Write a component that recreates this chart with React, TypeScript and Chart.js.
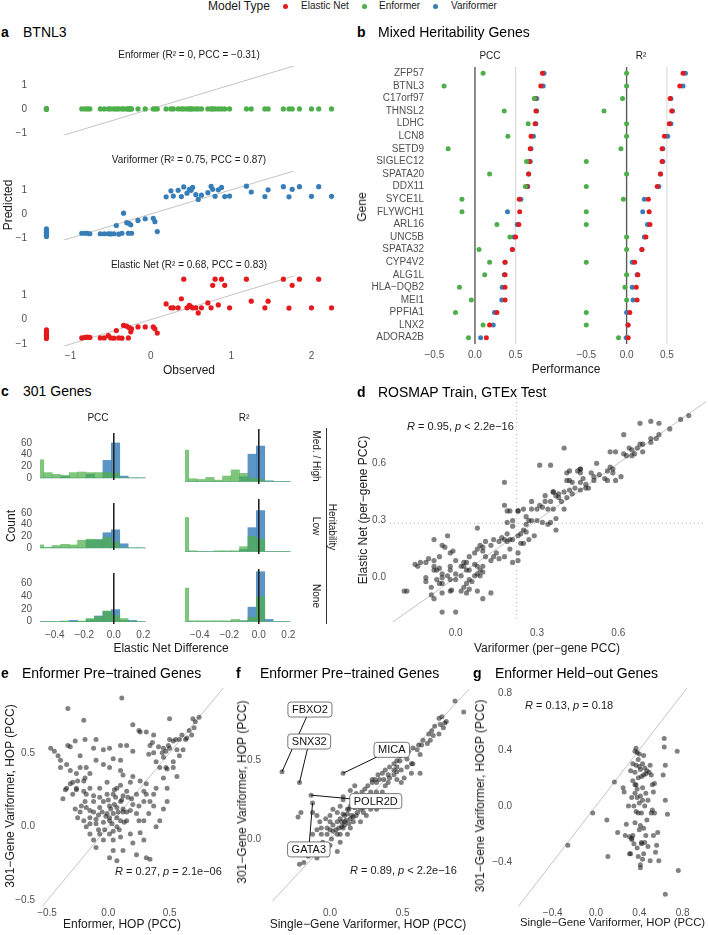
import React, { useEffect, useRef } from 'react';
import { Chart, registerables } from 'chart.js';

Chart.register(...registerables);

const FONT = '"Liberation Sans", Arial, Helvetica, sans-serif';
const INK = '#1a1a1a';
const TICK = '#505050';
const RED = '#E41A1C';
const GREEN = '#4DAF4A';
const BLUE = '#377EB8';
const DOT = 'rgba(25,25,25,0.55)';

// ---------- a: BTNL3, observed vs predicted ----------
const OBSERVED = [
  -1.3, -1.3, -1.3, -1.3, -1.3, -1.3,
  -0.86, -0.82, -0.79, -0.76, -0.63, -0.58, -0.53, -0.5, -0.46, -0.43, -0.4, -0.36, -0.34, -0.3, -0.28, -0.27, -0.25, -0.24,
  -0.16, -0.07, 0.03, 0.05, 0.08,
  0.19, 0.25, 0.28, 0.34, 0.38, 0.41, 0.45, 0.48, 0.5, 0.52, 0.56, 0.59, 0.63, 0.71, 0.75, 0.77, 0.8, 0.84, 0.88, 0.92, 0.98,
  1.19, 1.25, 1.42, 1.46, 1.65, 1.72, 1.76, 1.85, 2.0, 2.09, 2.25,
];
const PRED_ENFORMER = [
  0, 0, 0, 0, 0, 0,
  0, 0, 0, 0, 0, 0, 0, 0, 0, 0, 0, 0, 0, 0, 0, 0, 0, 0,
  0, 0, 0, 0, 0,
  0, 0, 0, 0, 0, 0, 0, 0, 0, 0, 0, 0, 0, 0, 0, 0, 0, 0, 0, 0, 0,
  0, 0, 0, 0, 0, 0, 0, 0, 0, 0, 0,
];
const PRED_VARIFORMER = [
  -0.62, -0.7, -0.76, -0.82, -0.88, -0.93,
  -0.8, -0.8, -0.8, -0.82, -0.82, -0.82, -0.82, -0.83, -0.82, -0.48, -0.84, -0.8, 0.03, -0.36, -0.8, -0.4, -0.45, -0.8,
  -0.27, -0.2, -0.18, -0.32, -0.73,
  0.71, 0.96, 0.74, 0.98, 0.72, 1.12, 0.86, 1.02, 0.98, 1.1, 0.8, 0.6, 0.78, 0.88, 1.14, 1.02, 0.73, 1.0, 1.1, 0.72, 0.74,
  1.15, 0.91, 0.72, 1.0, 1.13, 0.71, 1.02, 1.13, 0.73, 1.13, 0.73,
];
const PRED_ELASTIC = [
  -0.42, -0.5, -0.58, -0.64, -0.7, -0.77,
  -0.75, -0.73, -0.72, -0.73, -0.75, -0.75, -0.66, -0.75, -0.76, -0.45, -0.75, -0.76, -0.24, -0.27, -0.75, -0.33, -0.5, -0.38,
  -0.3, -0.3, -0.3, -0.38, -0.55,
  0.64, 0.48, 0.48, 0.48, 0.85, 1.65, 0.48, 0.58, 0.52, 0.48, 0.48, 0.27, 0.48, 0.68, 0.48, 1.4, 1.65, 0.6, 1.65, 1.4, 0.48,
  1.65, 0.75, 0.48, 0.75, 1.65, 0.47, 1.4, 1.65, 0.48, 1.65, 0.48,
];
const A_X_TICKS = [-1, 0, 1, 2];
const A_Y_TICKS = [-1, 0, 1];

// ---------- b: mixed heritability genes ----------
const GENES = [
  'ZFP57', 'BTNL3', 'C17orf97', 'THNSL2', 'LDHC', 'LCN8', 'SETD9', 'SIGLEC12', 'SPATA20', 'DDX11', 'SYCE1L',
  'FLYWCH1', 'ARL16', 'UNC5B', 'SPATA32', 'CYP4V2', 'ALG1L', 'HLA\u2212DQB2', 'MEI1', 'PPFIA1', 'LNX2', 'ADORA2B',
];
const PCC_ENFORMER = [0.1, -0.38, 0.73, 0.36, 0.655, 0.405, -0.33, 0.635, 0.18, 0.62, -0.16, -0.16, 0.27, 0.43, 0.05, 0.18, 0.12, -0.19, -0.045, -0.24, 0.1, -0.08];
const PCC_ELASTIC = [0.83, 0.81, 0.74, 0.75, 0.74, 0.69, 0.68, 0.67, 0.66, 0.64, 0.545, 0.55, 0.54, 0.5, 0.46, 0.37, 0.37, 0.37, 0.37, 0.27, 0.18, 0.14];
const PCC_VARIFORMER = [0.85, 0.84, 0.76, 0.76, 0.75, 0.72, 0.69, 0.68, 0.66, 0.65, 0.565, 0.4, 0.52, 0.48, 0.46, 0.37, 0.36, 0.335, 0.33, 0.24, 0.225, 0.07];
const R2_ENFORMER = [0, 0, -0.05, -0.28, 0, 0, -0.07, -0.5, 0, -0.5, -0.04, -0.5, -0.5, 0, 0, -0.5, 0, -0.02, 0, -0.5, -0.5, -0.1];
const R2_ELASTIC = [0.7, 0.66, 0.54, 0.56, 0.53, 0.47, 0.44, 0.44, 0.42, 0.38, 0.27, 0.28, 0.29, 0.24, 0.19, 0.1, 0.14, 0.12, 0.13, 0.04, 0.02, 0.02];
const R2_VARIFORMER = [0.73, 0.7, 0.55, 0.57, 0.55, 0.51, 0.45, 0.45, 0.42, 0.4, 0.22, 0.2, 0.26, 0.22, 0.19, 0.07, 0.13, 0.07, 0.08, 0, 0.015, -0.005];
const B_TICKS = [-0.5, 0, 0.5];

// ---------- c: 301 genes, elastic-net difference histograms ----------
const BIN_MID = [-0.503, -0.446, -0.389, -0.331, -0.274, -0.217, -0.159, -0.102, -0.045, 0.012, 0.069, 0.126, 0.184];
const PCC_HIGH_ENFORMER = [31, 9, 6, 4, 9, 10, 9, 9, 9, 8, 0, 0, 0];
const PCC_HIGH_VARIFORMER = [0, 0, 0, 3, 0, 0, 6, 0, 30, 60, 3, 0, 0];
const PCC_LOW_ENFORMER = [5, 1, 4, 6, 5, 13, 15, 14, 18, 10, 0, 0, 0];
const PCC_LOW_VARIFORMER = [0, 0, 0, 0, 0, 0, 13, 14, 26, 31, 7, 0, 0];
const PCC_NONE_ENFORMER = [0, 0, 0, 1, 0, 1, 5, 8, 17, 10, 5, 0, 0];
const PCC_NONE_VARIFORMER = [0, 0, 0, 0, 2, 0, 3, 9, 16, 19, 2, 2, 0];
const R2_HIGH_ENFORMER = [46, 4, 3, 6, 2, 8, 17, 12, 5, 3, 0, 0, 0];
const R2_HIGH_VARIFORMER = [0, 0, 0, 0, 0, 0, 0, 7, 40, 52, 1, 0, 0];
const R2_LOW_ENFORMER = [50, 1, 0, 0, 1, 1, 1, 7, 22, 18, 0, 0, 0];
const R2_LOW_VARIFORMER = [0, 0, 0, 0, 0, 0, 0, 3, 35, 60, 0, 0, 0];
const R2_NONE_ENFORMER = [49, 1, 1, 1, 1, 1, 3, 1, 6, 36, 0, 0, 0];
const R2_NONE_VARIFORMER = [0, 0, 0, 0, 0, 0, 0, 1, 21, 73, 3, 0, 0];
const C_X_TICKS = [-0.4, -0.2, 0, 0.2];
const C_Y_TICKS = [0, 20, 40, 60];

// ---------- d: ROSMAP train, GTEx test (Variformer vs Elastic Net per-gene PCC) ----------
const ROSMAP_GTEX = [
  [0.68, 0.81], [0.72, 0.82], [0.75, 0.81], [0.83, 0.83], [0.86, 0.85], [0.79, 0.78], [0.62, 0.75], [0.72, 0.71],
  [0.72, 0.73], [0.74, 0.73], [0.75, 0.75], [0.68, 0.7], [0.69, 0.7], [0.67, 0.68], [0.69, 0.66], [0.64, 0.68],
  [0.65, 0.67], [0.62, 0.65], [0.59, 0.66], [0.57, 0.66], [0.63, 0.64], [0.65, 0.64], [0.66, 0.65], [0.4, 0.68],
  [0.52, 0.6], [0.57, 0.58], [0.58, 0.57], [0.56, 0.56], [0.58, 0.55], [0.61, 0.53], [0.59, 0.51], [0.56, 0.51],
  [0.55, 0.52], [0.53, 0.54], [0.51, 0.53], [0.5, 0.55], [0.51, 0.51], [0.47, 0.52], [0.48, 0.49], [0.46, 0.57],
  [0.42, 0.51], [0.43, 0.5], [0.46, 0.5], [0.44, 0.47], [0.46, 0.46], [0.48, 0.47], [0.49, 0.47], [0.31, 0.59],
  [0.35, 0.59], [0.4, 0.45], [0.42, 0.46], [0.43, 0.44], [0.41, 0.42], [0.37, 0.43], [0.35, 0.4], [0.39, 0.4],
  [0.36, 0.36], [0.32, 0.37], [0.34, 0.36], [0.3, 0.36], [0.31, 0.38], [0.28, 0.4], [0.28, 0.36], [0.25, 0.36],
  [0.23, 0.35], [0.26, 0.32], [0.28, 0.3], [0.3, 0.3], [0.32, 0.29], [0.34, 0.28], [0.35, 0.29], [0.37, 0.25],
  [0.37, 0.31], [0.4, 0.36], [0.33, 0.43], [0.36, 0.45], [0.38, 0.42], [0.42, 0.56], [0.46, 0.55], [0.41, 0.51],
  [0.18, 0.5], [0.18, 0.38], [0.19, 0.35], [0.2, 0.35], [0.23, 0.35], [0.21, 0.3], [0.19, 0.29], [0.21, 0.27],
  [0.19, 0.23], [0.17, 0.21], [0.18, 0.2], [0.16, 0.19], [0.14, 0.2], [0.13, 0.17], [0.11, 0.19], [0.1, 0.16],
  [0.09, 0.17], [0.1, 0.14], [0.08, 0.15], [0.07, 0.13], [0.05, 0.11], [0.04, 0.08], [0.03, 0.08], [0.02, 0.06],
  [0.0, 0.09], [-0.01, 0.14], [-0.02, 0.13], [-0.03, 0.22], [-0.05, 0.17], [-0.04, 0.16], [-0.06, 0.11], [-0.08, 0.09],
  [-0.1, 0.1], [-0.11, 0.08], [-0.13, 0.08], [-0.15, 0.07], [-0.08, 0.2], [-0.08, 0.06], [-0.07, 0.04], [-0.06, 0.05],
  [-0.05, 0.02], [-0.02, 0.06], [-0.02, 0.04], [0.0, 0.02], [0.02, 0.01], [0.03, 0.06], [0.05, 0.04], [0.07, 0.07],
  [0.04, 0.04], [0.08, 0.06], [0.09, 0.04], [0.1, 0.06], [0.11, 0.11], [0.13, 0.09], [0.14, 0.11], [0.15, 0.13],
  [0.16, 0.1], [0.18, 0.11], [0.2, 0.15], [0.21, 0.2], [0.23, 0.22], [0.24, 0.23], [0.25, 0.25], [0.26, 0.28],
  [0.27, 0.3], [0.26, 0.24], [0.24, 0.18], [0.23, 0.13], [0.21, 0.08], [0.23, 0.09], [0.25, 0.18], [0.27, 0.2],
  [0.29, 0.22], [0.2, 0.2], [0.19, 0.19], [0.08, 0.26], [-0.14, 0.06], [-0.11, 0.0], [-0.11, -0.02], [-0.08, 0.04],
  [-0.07, -0.01], [-0.09, -0.05], [-0.06, -0.03], [-0.05, 0.0], [-0.03, 0.01], [-0.02, -0.01], [-0.02, -0.07], [-0.015, -0.065],
  [0.0, -0.01], [0.02, -0.07], [0.03, -0.05], [0.04, -0.03], [0.05, -0.01], [0.06, -0.02], [0.07, 0.01], [0.08, 0.02],
  [0.09, 0.01], [0.1, 0.03], [-0.18, -0.07], [-0.19, -0.07], [-0.05, -0.03], [-0.05, -0.18], [0.0, -0.18], [-0.09, -0.09],
  [-0.08, -0.11], [-0.05, -0.08], [0.04, -0.08], [0.1, -0.11], [0.13, -0.08], [0.08, -0.07], [0.05, -0.06], [0.33, 0.4],
  [0.36, 0.45], [0.38, 0.44], [0.45, 0.56], [0.41, 0.55], [0.46, 0.57],
];
const D_TICKS = [0, 0.3, 0.6];
const D_VAR_MARK = 0.225;
const D_EN_MARK = 0.285;

// ---------- e: Enformer pre-trained genes (Enformer vs 301-gene Variformer) ----------
const ENFORMER_VS_301 = [
  [0.11, 0.87], [-0.33, 0.8], [-0.2, 0.72], [0.5, 0.73], [0.69, 0.73], [0.71, 0.71], [0.74, 0.74], [0.2, 0.69],
  [0.25, 0.65], [0.26, 0.64], [0.31, 0.64], [0.37, 0.62], [0.36, 0.57], [0.5, 0.59], [0.55, 0.59], [0.63, 0.59],
  [0.45, 0.53], [0.41, 0.54], [0.37, 0.5], [0.33, 0.49], [0.47, 0.51], [0.34, 0.55], [0.2, 0.51], [0.15, 0.55],
  [0.1, 0.55], [0.01, 0.53], [-0.04, 0.52], [-0.1, 0.59], [-0.12, 0.53], [-0.19, 0.59], [-0.27, 0.58], [-0.33, 0.55],
  [-0.31, 0.54], [-0.23, 0.48], [-0.47, 0.53], [-0.44, 0.51], [-0.41, 0.48], [-0.39, 0.45], [-0.39, 0.4], [-0.34, 0.42],
  [-0.31, 0.38], [-0.26, 0.36], [-0.23, 0.4], [-0.18, 0.4], [-0.15, 0.36], [-0.2, 0.31], [-0.25, 0.31], [-0.29, 0.3],
  [-0.34, 0.26], [-0.37, 0.19], [-0.19, 0.33], [-0.15, 0.26], [-0.07, 0.26], [0.04, 0.46], [0.1, 0.45], [-0.1, 0.45],
  [-0.04, 0.42], [0.01, 0.4], [0.1, 0.38], [0.12, 0.35], [0.2, 0.34], [0.18, 0.3], [0.26, 0.31], [0.31, 0.29],
  [0.29, 0.24], [0.23, 0.22], [0.19, 0.19], [0.25, 0.14], [0.18, 0.11], [0.12, 0.1], [0.07, 0.26], [0.04, 0.22],
  [-0.01, 0.22], [-0.07, 0.2], [-0.12, 0.17], [-0.18, 0.13], [-0.23, 0.1], [-0.25, 0.06], [-0.2, 0.04], [-0.15, 0.02],
  [-0.1, 0.02], [-0.04, 0.03], [0.01, 0.04], [0.07, 0.0], [0.01, -0.05], [-0.04, -0.09], [-0.1, -0.14], [-0.07, -0.05],
  [0.04, -0.09], [0.1, -0.07], [0.12, -0.16], [0.04, -0.16], [0.01, -0.21], [0.07, -0.23], [0.2, -0.11], [0.29, -0.09],
  [0.23, -0.19], [0.25, 0.04], [0.29, 0.04], [0.33, 0.09], [0.37, 0.22], [0.34, 0.17], [0.39, 0.0], [0.42, 0.04],
  [0.45, 0.12], [0.48, 0.17], [0.15, 0.04], [0.18, -0.05], [0.26, -0.04], [0.31, -0.21], [0.34, -0.22], [-0.18, 0.0],
  [-0.15, -0.05], [-0.12, -0.09], [-0.08, -0.02], [-0.01, 0.09], [-0.07, 0.13], [0.01, 0.14], [0.07, 0.13], [0.1, 0.17],
  [-0.15, 0.06], [-0.12, 0.1], [-0.1, 0.05], [-0.2, 0.24], [-0.18, 0.22], [-0.26, 0.25], [-0.29, 0.22], [-0.31, 0.29],
  [-0.35, 0.25], [-0.26, 0.26], [0.47, 0.4], [0.61, 0.52], [0.56, 0.52], [0.5, 0.53], [0.53, 0.44], [0.58, 0.48],
  [0.39, 0.44], [0.42, 0.4], [0.48, 0.39], [0.53, 0.4], [0.56, 0.34], [0.45, 0.33], [0.48, 0.26], [0.39, 0.26],
  [-0.15, 0.11], [-0.04, 0.17], [0.04, 0.09], [0.1, 0.04], [0.01, 0.06], [0.23, 0.09], [0.2, 0.15], [0.15, 0.24],
  [0.37, 0.14], [0.29, 0.17], [0.31, 0.22], [0.12, 0.21], [-0.12, 0.21], [-0.19, 0.17], [-0.22, 0.14], [-0.27, 0.12],
  [0.02, 0.12], [0.05, 0.15], [0.08, 0.1], [0.03, 0.02], [-0.02, 0.07], [0.12, 0.12], [0.06, 0.2], [0.0, 0.18],
  [-0.05, 0.1], [0.09, -0.02], [0.13, 0.03], [0.15, 0.1], [0.04, -0.03], [-0.03, -0.02], [0.07, 0.06], [0.11, 0.18],
  [-0.08, 0.08], [0.16, 0.2], [0.05, 0.25], [-0.01, 0.3], [0.1, 0.28], [0.49, 0.55], [0.53, 0.58], [0.58, 0.59],
  [0.64, 0.6], [0.68, 0.62], [0.7, 0.67], [0.6, 0.62], [0.66, 0.65], [0.45, 0.47], [0.44, 0.5],
];
const E_TICKS = [-0.5, 0, 0.5];

// ---------- f: Enformer pre-trained genes (single-gene vs 301-gene Variformer) ----------
const SINGLE_VS_301 = [
  [0.86, 0.88], [0.92, 0.81], [0.79, 0.74], [0.78, 0.71], [0.75, 0.67], [0.71, 0.66], [0.69, 0.63], [0.67, 0.61],
  [0.63, 0.6], [0.6, 0.57], [0.62, 0.54], [0.56, 0.48], [0.62, 0.42], [0.51, 0.56], [0.53, 0.51], [0.48, 0.5],
  [0.49, 0.44], [0.46, 0.43], [0.44, 0.41], [0.41, 0.39], [0.4, 0.36], [0.38, 0.34], [0.36, 0.3], [0.32, 0.3],
  [0.28, 0.24], [0.25, 0.27], [0.22, 0.25], [0.18, 0.23], [0.14, 0.21], [0.12, 0.19], [0.09, 0.16], [0.07, 0.13],
  [0.05, 0.11], [0.02, 0.09], [0.0, 0.06], [-0.02, 0.03], [-0.05, -0.02], [-0.07, -0.04], [-0.1, -0.08], [-0.15, -0.11],
  [-0.18, -0.15], [-0.21, -0.16], [-0.09, -0.12], [-0.02, -0.07], [-0.02, -0.1], [0.05, -0.08], [0.0, -0.04], [0.01, 0.0],
  [0.07, 0.03], [0.09, 0.07], [0.16, 0.11], [0.18, 0.15], [0.23, 0.17], [0.25, 0.15], [0.21, 0.11], [0.14, 0.07],
  [0.12, 0.03], [0.07, -0.02], [0.28, 0.19], [0.32, 0.19], [0.34, 0.21], [0.42, 0.23], [0.36, 0.25], [0.23, 0.2],
  [0.0, 0.15], [0.02, 0.19], [0.05, 0.17], [0.1, 0.11], [0.15, 0.15], [0.28, 0.3], [0.3, 0.27], [0.39, 0.27],
  [0.18, 0.29], [0.17, 0.34], [0.14, 0.31], [-0.12, 0.17], [-0.09, 0.15], [-0.07, 0.11], [-0.03, 0.13], [-0.09, 0.06],
  [-0.12, 0.03], [-0.06, 0.07], [-0.2, 0.17], [-0.22, 0.14], [0.37, 0.38], [0.46, 0.38], [0.51, 0.39], [0.49, 0.36],
  [0.53, 0.46], [0.56, 0.42], [0.46, 0.46], [0.57, 0.48], [0.44, 0.44], [0.4, 0.41], [0.32, 0.36], [0.29, 0.38],
  [0.34, 0.38], [0.23, 0.27], [0.26, 0.22], [0.07, 0.21], [0.09, 0.25], [0.0, 0.11], [-0.06, 0.03], [-0.02, 0.07],
  [0.02, 0.05], [0.05, 0.03], [0.06, 0.07], [0.08, 0.11], [0.1, 0.15], [0.13, 0.19], [0.15, 0.22], [0.17, 0.25],
  [0.2, 0.27], [0.22, 0.3], [0.24, 0.32], [0.26, 0.34], [0.29, 0.36], [0.31, 0.38], [0.33, 0.41], [0.36, 0.42],
  [0.38, 0.44], [0.41, 0.46], [0.44, 0.48], [0.46, 0.5], [0.48, 0.53], [0.51, 0.54], [0.54, 0.56], [0.57, 0.58],
  [0.61, 0.6], [0.64, 0.63], [0.68, 0.67], [0.7, 0.69], [0.72, 0.72], [0.76, 0.73], [0.8, 0.75], [0.75, 0.77],
  [0.77, 0.78], [0.11, 0.12], [0.13, 0.1], [0.16, 0.14], [0.19, 0.17], [0.21, 0.19], [0.12, 0.16], [0.08, 0.08],
  [0.04, 0.06], [0.17, 0.2], [0.2, 0.22], [0.14, 0.13], [0.1, 0.09], [0.09, 0.27],
  [-0.33, 0.43], [-0.21, 0.36], [0.09, 0.42], [-0.13, 0.28], [-0.12, 0.23],
];
const F_TICKS = [0, 0.5];
const TAG_GENES = ['FBXO2', 'SNX32', 'MICA', 'POLR2D', 'GATA3'];
const TAG_POINTS = [[-0.33, 0.43], [-0.21, 0.36], [0.09, 0.42], [-0.13, 0.28], [-0.12, 0.23]];
const TAG_SPOTS = [[-0.138, 0.826], [-0.143, 0.622], [0.425, 0.569], [0.315, 0.242], [-0.146, -0.066]];

// ---------- g: Enformer held-out genes ----------
const HELD_OUT = [
  [-0.26, -0.28], [-0.03, -0.05], [0.1, -0.1], [0.11, -0.36], [0.17, 0.17], [0.2, -0.19],
  [0.63, 0.48], [0.63, 0.42], [0.75, 0.39], [0.64, 0.29], [0.62, 0.22], [0.64, 0.04], [0.66, -0.06], [0.58, -0.39],
  [0.76, -0.46], [0.64, -0.63], [0.57, -0.19], [0.56, -0.28],
  [0.25, 0.13], [0.26, 0.1], [0.28, -0.13], [0.27, -0.21], [0.3, 0.0], [0.31, -0.22], [0.31, -0.34], [0.32, 0.25],
  [0.32, -0.34], [0.33, 0.06], [0.33, -0.23], [0.34, 0.3], [0.34, 0.18], [0.35, 0.0], [0.35, -0.27], [0.36, 0.39],
  [0.36, 0.24], [0.36, -0.12], [0.37, 0.41], [0.37, 0.29], [0.37, 0.15], [0.37, -0.04], [0.38, 0.38], [0.38, 0.12],
  [0.38, -0.3], [0.39, 0.33], [0.39, 0.2], [0.39, -0.05], [0.39, -0.36], [0.4, 0.28], [0.4, 0.02], [0.4, -0.17],
  [0.41, 0.26], [0.41, 0.07], [0.41, -0.14], [0.41, -0.42], [0.42, 0.21], [0.42, -0.05], [0.42, -0.26], [0.43, 0.3],
  [0.43, 0.13], [0.43, -0.38], [0.44, 0.22], [0.44, -0.16], [0.45, 0.27], [0.45, 0.0], [0.45, -0.26], [0.46, 0.23],
  [0.46, 0.09], [0.46, -0.21], [0.47, 0.25], [0.47, -0.1], [0.48, 0.04], [0.48, -0.29], [0.5, 0.29], [0.5, -0.39],
  [0.51, 0.22], [0.51, -0.05], [0.52, 0.15], [0.52, -0.03], [0.53, 0.1], [0.53, -0.21], [0.54, 0.16], [0.55, -0.33],
  [0.54, -0.05], [0.44, 0.36], [0.4, 0.37], [0.36, 0.15], [0.34, -0.21], [0.33, -0.24], [0.42, -0.27], [0.41, -0.44],
  [0.44, -0.34], [0.36, 0.09], [0.38, 0.06], [0.43, 0.04], [0.49, 0.24],
];
const G_TICKS = [-0.4, 0, 0.4, 0.8];

// ---------- helpers ----------
const fixed = (d: number) => (v: number) => {
  const r = Math.abs(v) < 1e-9 ? 0 : v;
  return (r < 0 ? '\u2212' : '') + Math.abs(r).toFixed(d);
};
const pairs = (xs: number[], ys: number[]) => xs.map((x, i) => ({ x, y: ys[i] }));
const points = (list: number[][]) => list.map(([x, y]) => ({ x, y }));

type Guide = { kind: 'v' | 'h' | 'diag'; at?: number; color: string; width: number; dash?: number[]; top?: boolean };

function guides(list: Guide[]) {
  const paint = (chart: any, top: boolean) => {
    const { ctx, chartArea: a } = chart;
    const xs = chart.scales.x;
    const ys = chart.scales.y;
    ctx.save();
    ctx.beginPath();
    ctx.rect(a.left, a.top, a.right - a.left, a.bottom - a.top);
    ctx.clip();
    for (const g of list) {
      if (!!g.top !== top) continue;
      ctx.beginPath();
      ctx.strokeStyle = g.color;
      ctx.lineWidth = g.width;
      ctx.setLineDash(g.dash || []);
      if (g.kind === 'v') {
        const p = xs.getPixelForValue(g.at);
        ctx.moveTo(p, a.top);
        ctx.lineTo(p, a.bottom);
      } else if (g.kind === 'h') {
        const p = ys.getPixelForValue(g.at);
        ctx.moveTo(a.left, p);
        ctx.lineTo(a.right, p);
      } else {
        const lo = Math.min(xs.min, ys.min) - 1;
        const hi = Math.max(xs.max, ys.max) + 1;
        ctx.moveTo(xs.getPixelForValue(lo), ys.getPixelForValue(lo));
        ctx.lineTo(xs.getPixelForValue(hi), ys.getPixelForValue(hi));
      }
      ctx.stroke();
    }
    ctx.restore();
  };
  return {
    id: 'guides',
    beforeDatasetsDraw: (c: any) => paint(c, false),
    afterDatasetsDraw: (c: any) => paint(c, true),
  };
}

function tags(names: string[], pts: number[][], spots: number[][]) {
  return {
    id: 'tags',
    afterDatasetsDraw(chart: any) {
      const { ctx } = chart;
      const xs = chart.scales.x;
      const ys = chart.scales.y;
      ctx.save();
      ctx.strokeStyle = '#111';
      ctx.lineWidth = 1;
      names.forEach((_, i) => {
        ctx.beginPath();
        ctx.moveTo(xs.getPixelForValue(pts[i][0]), ys.getPixelForValue(pts[i][1]));
        ctx.lineTo(xs.getPixelForValue(spots[i][0]), ys.getPixelForValue(spots[i][1]));
        ctx.stroke();
      });
      ctx.font = `11px ${FONT}`;
      ctx.textAlign = 'center';
      ctx.textBaseline = 'middle';
      names.forEach((name, i) => {
        const cx = xs.getPixelForValue(spots[i][0]);
        const cy = ys.getPixelForValue(spots[i][1]);
        const w = ctx.measureText(name).width + 8;
        const h = 15;
        ctx.beginPath();
        ctx.roundRect(cx - w / 2, cy - h / 2, w, h, 3);
        ctx.fillStyle = '#fff';
        ctx.fill();
        ctx.strokeStyle = '#555';
        ctx.lineWidth = 0.8;
        ctx.stroke();
        ctx.fillStyle = '#111';
        ctx.fillText(name, cx, cy + 0.5);
      });
      ctx.restore();
    },
  };
}

type Ax = { min: number; max: number; ticks: number[] | null; fmt?: (v: number) => string; pad?: number; reverse?: boolean };
type Frame = { l: number; t: number; r: number; b: number; yw?: number; xh?: number };

const M = 10;
function place(f: Frame) {
  const yw = f.yw || 0;
  const xh = f.xh || 0;
  return {
    left: f.l - (yw || M),
    top: f.t - M,
    width: f.r - f.l + (yw || M) + M,
    height: f.b - f.t + M + (xh || M),
    padding: { left: yw ? 0 : M, top: M, right: M, bottom: xh ? 0 : M },
  };
}

function scale(ax: Ax, size: number, horizontal: boolean) {
  const shown = ax.ticks !== null && size > 0;
  return {
    type: 'linear',
    min: ax.min,
    max: ax.max,
    reverse: !!ax.reverse,
    offset: false,
    display: shown,
    grid: { display: false, drawTicks: false },
    border: { display: false },
    ticks: {
      padding: ax.pad ?? 4,
      color: TICK,
      autoSkip: false,
      maxRotation: 0,
      font: { size: 10, family: FONT },
      callback: (v: number) => (ax.fmt ? ax.fmt(v) : String(v)),
    },
    afterBuildTicks: (s: any) => {
      if (ax.ticks) s.ticks = ax.ticks.map((value) => ({ value }));
    },
    afterFit: (s: any) => {
      if (horizontal) s.height = size;
      else s.width = size;
    },
  };
}

type Spec = { key: string; frame: Frame; x: Ax; y: Ax; type?: 'scatter' | 'bar'; datasets: any[]; plugins?: any[] };

function Plot({ spec }: { spec: Spec }) {
  const ref = useRef<HTMLCanvasElement>(null);
  const p = place(spec.frame);
  useEffect(() => {
    const chart = new Chart(ref.current as HTMLCanvasElement, {
      type: spec.type || 'scatter',
      data: { datasets: spec.datasets },
      options: {
        animation: false,
        responsive: false,
        devicePixelRatio: 1,
        events: [],
        layout: { padding: p.padding },
        plugins: { legend: { display: false }, tooltip: { enabled: false }, title: { display: false } },
        scales: {
          x: scale(spec.x, spec.frame.xh || 0, true),
          y: scale(spec.y, spec.frame.yw || 0, false),
        },
      } as any,
      plugins: spec.plugins || [],
    } as any);
    return () => chart.destroy();
  }, []);
  return (
    <canvas
      ref={ref}
      width={p.width}
      height={p.height}
      style={{ position: 'absolute', left: p.left, top: p.top, width: p.width, height: p.height }}
    />
  );
}

const dots = (data: any[], color: string, r = 2.6) => ({
  data,
  backgroundColor: color,
  borderWidth: 0,
  pointRadius: r,
  pointHoverRadius: r,
});

const bars = (counts: number[], color: string) => ({
  data: BIN_MID.map((x, i) => ({ x, y: counts[i] })),
  backgroundColor: color,
  borderWidth: 0,
  grouped: false,
  barPercentage: 1,
  categoryPercentage: 1,
  clip: 0,
});

// ---------- chart specs ----------
const intFmt = (v: number) => (v < 0 ? '\u2212' + Math.abs(v) : String(v));
const A_X: Ax = { min: -1.48, max: 2.43, ticks: A_X_TICKS, fmt: intFmt, pad: 4 };
const A_Y: Ax = { min: -1.08, max: 1.78, ticks: A_Y_TICKS, fmt: intFmt, pad: 5 };
const diag: Guide = { kind: 'diag', color: '#c4c4c4', width: 1 };

const A_ROWS = [
  { key: 'a1', t: 65, b: 136, pred: PRED_ENFORMER, color: GREEN },
  { key: 'a2', t: 170, b: 241, pred: PRED_VARIFORMER, color: BLUE },
  { key: 'a3', t: 275, b: 346, pred: PRED_ELASTIC, color: RED },
];

const B_X: Ax = { min: -0.59, max: 0.96, ticks: B_TICKS, fmt: fixed(1), pad: 5 };
const B_Y: Ax = {
  min: -0.5,
  max: 21.5,
  reverse: true,
  ticks: GENES.map((_, i) => i),
  fmt: (v: number) => GENES[v] || '',
  pad: 3,
};
const geneIdx = GENES.map((_, i) => i);
const bLines: Guide[] = [
  { kind: 'v', at: 0, color: '#5a5a5a', width: 1.4 },
  { kind: 'v', at: 0.5, color: '#d6d6d6', width: 1 },
];

const C_X: Ax = { min: -0.5, max: 0.293, ticks: C_X_TICKS, fmt: fixed(1), pad: 5 };
const C_Y: Ax = { min: -3.7, max: 77, ticks: C_Y_TICKS, fmt: (v: number) => String(v), pad: 8 };
const C_ROWS = [
  { t: 429, b: 484, pcc: [PCC_HIGH_ENFORMER, PCC_HIGH_VARIFORMER], r2: [R2_HIGH_ENFORMER, R2_HIGH_VARIFORMER] },
  { t: 499, b: 554, pcc: [PCC_LOW_ENFORMER, PCC_LOW_VARIFORMER], r2: [R2_LOW_ENFORMER, R2_LOW_VARIFORMER] },
  { t: 569, b: 624, pcc: [PCC_NONE_ENFORMER, PCC_NONE_VARIFORMER], r2: [R2_NONE_ENFORMER, R2_NONE_VARIFORMER] },
];
const zeroLine: Guide[] = [{ kind: 'v', at: 0, color: '#222', width: 1.6, top: true }];
const HIST_GREEN = 'rgba(77,175,74,0.72)';
const HIST_BLUE = 'rgba(55,126,184,0.82)';

const SPECS: Spec[] = [
  ...A_ROWS.map((row, i) => ({
    key: row.key,
    frame: { l: 32, t: row.t, r: 346, b: row.b, yw: 32, xh: i === 2 ? 20 : 0 },
    x: { ...A_X, ticks: i === 2 ? A_X_TICKS : null },
    y: A_Y,
    datasets: [dots(pairs(OBSERVED, row.pred), row.color)],
    plugins: [guides([diag])],
  })),
  {
    key: 'b1',
    frame: { l: 427, t: 67, r: 553, b: 344, yw: 90, xh: 20 },
    x: B_X,
    y: B_Y,
    datasets: [
      dots(pairs(PCC_ENFORMER, geneIdx), GREEN, 2.5),
      dots(pairs(PCC_ELASTIC, geneIdx), RED, 2.5),
      dots(pairs(PCC_VARIFORMER, geneIdx), BLUE, 2.5),
    ],
    plugins: [guides(bLines)],
  },
  {
    key: 'b2',
    frame: { l: 579, t: 67, r: 704, b: 344, xh: 20 },
    x: B_X,
    y: { ...B_Y, ticks: null },
    datasets: [
      dots(pairs(R2_ENFORMER, geneIdx), GREEN, 2.5),
      dots(pairs(R2_ELASTIC, geneIdx), RED, 2.5),
      dots(pairs(R2_VARIFORMER, geneIdx), BLUE, 2.5),
    ],
    plugins: [guides(bLines)],
  },
  ...C_ROWS.flatMap((row, i) => [
    {
      key: `c${i}p`,
      type: 'bar' as const,
      frame: { l: 40, t: row.t, r: 157, b: row.b, yw: 40, xh: i === 2 ? 18 : 0 },
      x: { ...C_X, ticks: i === 2 ? C_X_TICKS : null },
      y: C_Y,
      datasets: [bars(row.pcc[0], HIST_GREEN), bars(row.pcc[1], HIST_BLUE)],
      plugins: [guides(zeroLine)],
    },
    {
      key: `c${i}r`,
      type: 'bar' as const,
      frame: { l: 185, t: row.t, r: 302, b: row.b, xh: i === 2 ? 18 : 0 },
      x: { ...C_X, ticks: i === 2 ? C_X_TICKS : null },
      y: { ...C_Y, ticks: null },
      datasets: [bars(row.r2[0], HIST_GREEN), bars(row.r2[1], HIST_BLUE)],
      plugins: [guides(zeroLine)],
    },
  ]),
  {
    key: 'd',
    frame: { l: 390, t: 398, r: 706, b: 622, yw: 40, xh: 20 },
    x: { min: -0.2424, max: 0.9236, ticks: D_TICKS, fmt: fixed(1), pad: 5 },
    y: { min: -0.2323, max: 0.9423, ticks: D_TICKS, fmt: fixed(1), pad: 4 },
    datasets: [dots(points(ROSMAP_GTEX), DOT, 2.6)],
    plugins: [
      guides([
        { kind: 'v', at: D_VAR_MARK, color: '#b8b8b8', width: 1, dash: [1, 3] },
        { kind: 'h', at: D_EN_MARK, color: '#b8b8b8', width: 1, dash: [1, 3] },
        diag,
      ]),
    ],
  },
  {
    key: 'e',
    frame: { l: 41, t: 686, r: 225, b: 906, yw: 41, xh: 20 },
    x: { min: -0.549, max: 0.952, ticks: E_TICKS, fmt: fixed(1), pad: 1 },
    y: { min: -0.536, max: 0.938, ticks: E_TICKS, fmt: fixed(1), pad: 6 },
    datasets: [dots(points(ENFORMER_VS_301), DOT, 2.5)],
    plugins: [guides([diag])],
  },
  {
    key: 'f',
    frame: { l: 271, t: 683, r: 472, b: 901, yw: 40, xh: 20 },
    x: { min: -0.406, max: 0.977, ticks: F_TICKS, fmt: fixed(1), pad: 6 },
    y: { min: -0.395, max: 0.957, ticks: F_TICKS, fmt: fixed(1), pad: 10 },
    datasets: [dots(points(SINGLE_VS_301), DOT, 2.5)],
    plugins: [guides([diag]), tags(TAG_GENES, TAG_POINTS, TAG_SPOTS)],
  },
  {
    key: 'g',
    frame: { l: 518, t: 686, r: 703, b: 906, yw: 40, xh: 20 },
    x: { min: -0.72, max: 0.988, ticks: G_TICKS, fmt: fixed(1), pad: 1 },
    y: { min: -0.713, max: 0.84, ticks: G_TICKS, fmt: fixed(1), pad: 6 },
    datasets: [dots(points(HELD_OUT), DOT, 2.5)],
    plugins: [guides([diag])],
  },
];

// ---------- text ----------
type TxtProps = {
  x: number;
  y: number;
  size?: number;
  center?: boolean;
  rot?: number;
  bold?: boolean;
  color?: string;
  children: React.ReactNode;
};
function Txt({ x, y, size = 12, center = false, rot = 0, bold = false, color = INK, children }: TxtProps) {
  const tx = center || rot ? '-50%' : '0';
  return (
    <div
      style={{
        position: 'absolute',
        left: x,
        top: y,
        transform: `translate(${tx}, -50%)${rot ? ` rotate(${rot}deg)` : ''}`,
        fontSize: size,
        fontWeight: bold ? 700 : 400,
        color,
        whiteSpace: 'nowrap',
        lineHeight: 1,
      }}
    >
      {children}
    </div>
  );
}

function Heading({ x, tx, y, letter, title }: { x: number; tx: number; y: number; letter: string; title: string }) {
  return (
    <>
      <Txt x={x} y={y} size={14} bold color="#000">
        {letter}
      </Txt>
      <Txt x={tx} y={y} size={14} color="#000">
        {title}
      </Txt>
    </>
  );
}

function Swatch({ x, color }: { x: number; color: string }) {
  return (
    <div
      style={{
        position: 'absolute',
        left: x - 2.5,
        top: 6 - 2.5,
        width: 5,
        height: 5,
        borderRadius: '50%',
        background: color,
      }}
    />
  );
}

const Stat = ({ r, p, op }: { r: string; p: string; op: string }) => (
  <>
    <i>R</i> = {r}, <i>p</i> {op} {p}
  </>
);

export default function App() {
  return (
    <div
      style={{
        position: 'absolute',
        left: 0,
        top: 0,
        width: 708,
        height: 935,
        overflow: 'hidden',
        background: '#fff',
        fontFamily: FONT,
        color: INK,
      }}
    >
      {SPECS.map((s) => (
        <Plot key={s.key} spec={s} />
      ))}

      {/* legend */}
      <Txt x={208} y={6} size={12}>
        Model Type
      </Txt>
      <Swatch x={285} color={RED} />
      <Txt x={301} y={6} size={10}>
        Elastic Net
      </Txt>
      <Swatch x={364} color={GREEN} />
      <Txt x={379} y={6} size={10}>
        Enformer
      </Txt>
      <Swatch x={435} color={BLUE} />
      <Txt x={451} y={6} size={10}>
        Variformer
      </Txt>

      {/* headings */}
      <Heading x={1} tx={23} y={32} letter="a" title="BTNL3" />
      <Heading x={357} tx={378} y={32} letter="b" title="Mixed Heritability Genes" />
      <Heading x={1} tx={23} y={391} letter="c" title="301 Genes" />
      <Heading x={357} tx={378} y={392} letter="d" title="ROSMAP Train, GTEx Test" />
      <Heading x={1} tx={22} y={673} letter="e" title={'Enformer Pre\u2212trained Genes'} />
      <Heading x={236} tx={260} y={673} letter="f" title={'Enformer Pre\u2212trained Genes'} />
      <Heading x={473} tx={495} y={673} letter="g" title={'Enformer Held\u2212out Genes'} />

      {/* a */}
      <Txt x={189} y={55} size={10} center>
        Enformer (R² = 0, PCC = {'\u2212'}0.31)
      </Txt>
      <Txt x={189} y={160} size={10} center>
        Variformer (R² = 0.75, PCC = 0.87)
      </Txt>
      <Txt x={189} y={265} size={10} center>
        Elastic Net (R² = 0.68, PCC = 0.83)
      </Txt>
      <Txt x={8} y={205} size={12} rot={-90}>
        Predicted
      </Txt>
      <Txt x={189} y={370} size={12} center>
        Observed
      </Txt>

      {/* b */}
      <Txt x={490} y={56} size={10} center>
        PCC
      </Txt>
      <Txt x={641} y={56} size={10} center>
        R²
      </Txt>
      <Txt x={362} y={207} size={12} rot={-90}>
        Gene
      </Txt>
      <Txt x={566} y={369} size={12} center>
        Performance
      </Txt>

      {/* c */}
      <Txt x={98} y={418} size={10} center>
        PCC
      </Txt>
      <Txt x={244} y={418} size={10} center>
        R²
      </Txt>
      <Txt x={316} y={456} size={10} rot={90}>
        Med. / High
      </Txt>
      <Txt x={316} y={526} size={10} rot={90}>
        Low
      </Txt>
      <Txt x={316} y={596} size={10} rot={90}>
        None
      </Txt>
      <div style={{ position: 'absolute', left: 326, top: 428, width: 1, height: 196, background: '#333' }} />
      <Txt x={332} y={527} size={10} rot={90}>
        Heritability
      </Txt>
      <Txt x={11} y={526} size={12} rot={-90}>
        Count
      </Txt>
      <Txt x={171} y={648} size={12} center>
        Elastic Net Difference
      </Txt>

      {/* d */}
      <Txt x={407} y={426} size={11}>
        <Stat r="0.95" op="<" p={'2.2e\u221216'} />
      </Txt>
      <Txt x={363} y={510} size={12} rot={-90}>
        Elastic Net (per{'\u2212'}gene PCC)
      </Txt>
      <Txt x={547} y={648} size={12} center>
        Variformer (per{'\u2212'}gene PCC)
      </Txt>

      {/* e */}
      <Txt x={115} y={871} size={11}>
        <Stat r="0.27" op="=" p={'2.1e\u221206'} />
      </Txt>
      <Txt x={10} y={796} size={12} rot={-90}>
        301{'\u2212'}Gene Variformer, HOP (PCC)
      </Txt>
      <Txt x={122} y={924} size={12} center>
        Enformer, HOP (PCC)
      </Txt>

      {/* f */}
      <Txt x={350} y={870} size={11}>
        <Stat r="0.89" op="<" p={'2.2e\u221216'} />
      </Txt>
      <Txt x={242} y={792} size={12} rot={-90}>
        301{'\u2212'}Gene Variformer, HOP (PCC)
      </Txt>
      <Txt x={368} y={924} size={12} center>
        Single{'\u2212'}Gene Variformer, HOP (PCC)
      </Txt>

      {/* g */}
      <Txt x={525} y={705} size={11}>
        <Stat r="0.13" op="=" p="0.18" />
      </Txt>
      <Txt x={480} y={796} size={12} rot={-90}>
        301{'\u2212'}Gene Variformer, HOGP (PCC)
      </Txt>
      <Txt x={520} y={923} size={11.3}>
        Single{'\u2212'}Gene Variformer, HOP (PCC)
      </Txt>
    </div>
  );
}
